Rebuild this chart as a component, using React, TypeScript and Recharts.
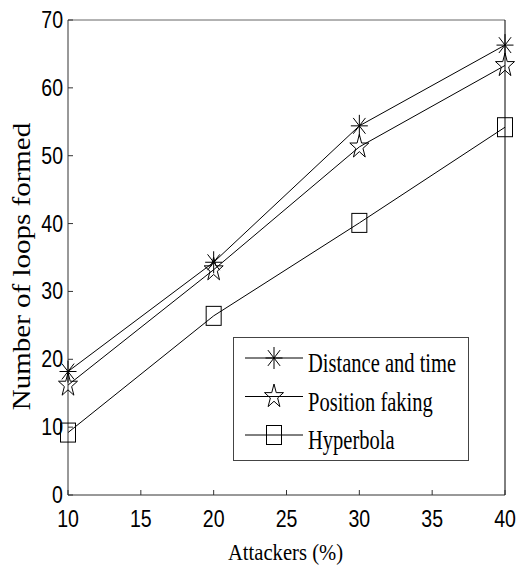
import React from "react"
import { LineChart, Line, XAxis, YAxis, Legend } from "recharts"

const attackers = [10, 20, 30, 40]
const distanceTime = [18.2, 34.3, 54.4, 66.3]
const positionFaking = [16.2, 33.2, 51.3, 63.3]
const hyperbola = [9.2, 26.4, 40.1, 54.2]

const xTicks = [10, 15, 20, 25, 30, 35, 40]
const yTicks = [0, 10, 20, 30, 40, 50, 60, 70]

const seriesNames = ["Distance and time", "Position faking", "Hyperbola"]

const data = attackers.map((a, i) => ({
  attackers: a,
  distanceTime: distanceTime[i],
  positionFaking: positionFaking[i],
  hyperbola: hyperbola[i],
}))

const INK = "#000"
const AXIS = "#333"
const TICK_FONT = "'Liberation Sans', Arial, sans-serif"
const SERIF = "'Liberation Serif', 'Times New Roman', serif"
// the source figure is squashed sideways, so serif text gets a horizontal squeeze
const SQUEEZE = 0.76

type MarkerKind = "asterisk" | "star" | "square"

/** MATLAB-ish markers, slightly squashed sideways like the source figure. */
function Marker({ kind, cx, cy }: { kind: MarkerKind; cx: number; cy: number }) {
  if (kind === "asterisk") {
    const rx = 8.5
    const ry = 11
    const dx = rx * 0.72
    const dy = ry * 0.72
    return (
      <g stroke={INK} strokeWidth={1} fill="none">
        <line x1={cx - rx} y1={cy} x2={cx + rx} y2={cy} />
        <line x1={cx} y1={cy - ry} x2={cx} y2={cy + ry} />
        <line x1={cx - dx} y1={cy - dy} x2={cx + dx} y2={cy + dy} />
        <line x1={cx - dx} y1={cy + dy} x2={cx + dx} y2={cy - dy} />
      </g>
    )
  }
  if (kind === "star") {
    const R = 12.5
    const sx = 0.8
    const pts: string[] = []
    for (let i = 0; i < 10; i++) {
      const ang = ((-90 + i * 36) * Math.PI) / 180
      const r = i % 2 === 0 ? R : R * 0.382
      pts.push(`${cx + r * Math.cos(ang) * sx},${cy + r * Math.sin(ang)}`)
    }
    return <polygon points={pts.join(" ")} stroke={INK} strokeWidth={1} fill="none" />
  }
  return (
    <rect x={cx - 7.5} y={cy - 9.5} width={15} height={19} stroke={INK} strokeWidth={1} fill="none" />
  )
}

const markerFor: Record<string, MarkerKind> = {
  "Distance and time": "asterisk",
  "Position faking": "star",
  Hyperbola: "square",
}

function dotRenderer(kind: MarkerKind) {
  return (props: any) => {
    const { cx, cy, index } = props
    if (cx == null || cy == null) return <g key={`${kind}-${index}`} />
    return (
      <g key={`${kind}-${index}`}>
        <Marker kind={kind} cx={cx} cy={cy} />
      </g>
    )
  }
}

function BottomTick({ x, y, payload }: any) {
  return (
    <g>
      <line x1={x} x2={x} y1={y} y2={y - 5} stroke={AXIS} />
      <text
        transform={`translate(${x}, ${y + 32}) scale(0.85, 1)`}
        textAnchor="middle"
        fontFamily={TICK_FONT}
        fontSize={23}
        fill={INK}
      >
        {payload.value}
      </text>
    </g>
  )
}

function TopTick({ x, y }: any) {
  return <line x1={x} x2={x} y1={y} y2={y + 5} stroke={AXIS} />
}

function LeftTick({ x, y, payload }: any) {
  return (
    <g>
      <line x1={x} x2={x + 5} y1={y} y2={y} stroke={AXIS} />
      <text
        transform={`translate(${x - 5}, ${y + 8}) scale(0.85, 1)`}
        textAnchor="end"
        fontFamily={TICK_FONT}
        fontSize={23}
        fill={INK}
      >
        {payload.value}
      </text>
    </g>
  )
}

function RightTick({ x, y }: any) {
  return <line x1={x} x2={x - 5} y1={y} y2={y} stroke={AXIS} />
}

function XTitle({ viewBox }: any) {
  const cx = viewBox.x + viewBox.width / 2
  return (
    <text
      transform={`translate(${cx - 1}, ${viewBox.y + 65}) scale(0.86, 1)`}
      textAnchor="middle"
      fontFamily={SERIF}
      fontSize={24}
      fill={INK}
    >
      Attackers (%)
    </text>
  )
}

function YTitle({ viewBox }: any) {
  const cy = viewBox.y + viewBox.height / 2 + 9
  return (
    <text
      transform={`translate(30, ${cy}) rotate(-90) scale(1, 0.9)`}
      textAnchor="middle"
      fontFamily={SERIF}
      fontSize={29}
      fill={INK}
    >
      Number of loops formed
    </text>
  )
}

function LegendBox({ payload }: any) {
  const items: string[] = (payload ?? []).map((p: any) => String(p.value))
  const names = seriesNames.filter((n) => items.length === 0 || items.includes(n))
  return (
    <svg width={236} height={124} style={{ display: "block" }}>
      <rect x={0.5} y={0.5} width={235} height={123} fill="#fff" stroke="#444" strokeWidth={1} />
      {names.map((name, i) => {
        const my = 21 + i * 38.5
        return (
          <g key={name}>
            <line x1={12} x2={70} y1={my} y2={my} stroke={INK} strokeWidth={1} />
            <Marker kind={markerFor[name]} cx={41} cy={my} />
            <text
              transform={`translate(75, ${my + 14}) scale(${SQUEEZE}, 1)`}
              fontFamily={SERIF}
              fontSize={27}
              fill={INK}
            >
              {name}
            </text>
          </g>
        )
      })}
    </svg>
  )
}

export default function App() {
  return (
    <div style={{ position: "absolute", left: 0, top: 0, width: 516, height: 565, background: "#fff" }}>
      <LineChart width={516} height={565} data={data} margin={{ top: 0, right: 0, bottom: 0, left: 0 }}>
        <XAxis
          dataKey="attackers"
          type="number"
          domain={[10, 40]}
          ticks={xTicks}
          height={70}
          stroke={AXIS}
          tickLine={false}
          tickSize={0}
          tickMargin={0}
          tick={<BottomTick />}
          interval={0}
          label={{ content: XTitle }}
        />
        <XAxis
          xAxisId="top"
          orientation="top"
          type="number"
          domain={[10, 40]}
          ticks={xTicks}
          height={20}
          stroke="#666"
          tickLine={false}
          tickSize={0}
          tickMargin={0}
          tick={<TopTick />}
          interval={0}
        />
        <YAxis
          type="number"
          domain={[0, 70]}
          ticks={yTicks}
          width={68}
          stroke={AXIS}
          tickLine={false}
          tickSize={0}
          tickMargin={0}
          tick={<LeftTick />}
          interval={0}
          label={{ content: YTitle }}
        />
        <YAxis
          yAxisId="right"
          orientation="right"
          type="number"
          domain={[0, 70]}
          ticks={yTicks}
          width={11}
          stroke={INK}
          tickLine={false}
          tickSize={0}
          tickMargin={0}
          tick={<RightTick />}
          interval={0}
        />
        <Legend
          layout="horizontal"
          verticalAlign="middle"
          align="center"
          content={<LegendBox />}
          wrapperStyle={{ left: 233, top: 337, width: 236, height: 124 }}
        />
        <Line
          name={seriesNames[0]}
          dataKey="distanceTime"
          stroke={INK}
          strokeWidth={1}
          dot={dotRenderer("asterisk")}
          activeDot={false}
          isAnimationActive={false}
        />
        <Line
          name={seriesNames[1]}
          dataKey="positionFaking"
          stroke={INK}
          strokeWidth={1}
          dot={dotRenderer("star")}
          activeDot={false}
          isAnimationActive={false}
        />
        <Line
          name={seriesNames[2]}
          dataKey="hyperbola"
          stroke={INK}
          strokeWidth={1}
          dot={dotRenderer("square")}
          activeDot={false}
          isAnimationActive={false}
        />
      </LineChart>
    </div>
  )
}
